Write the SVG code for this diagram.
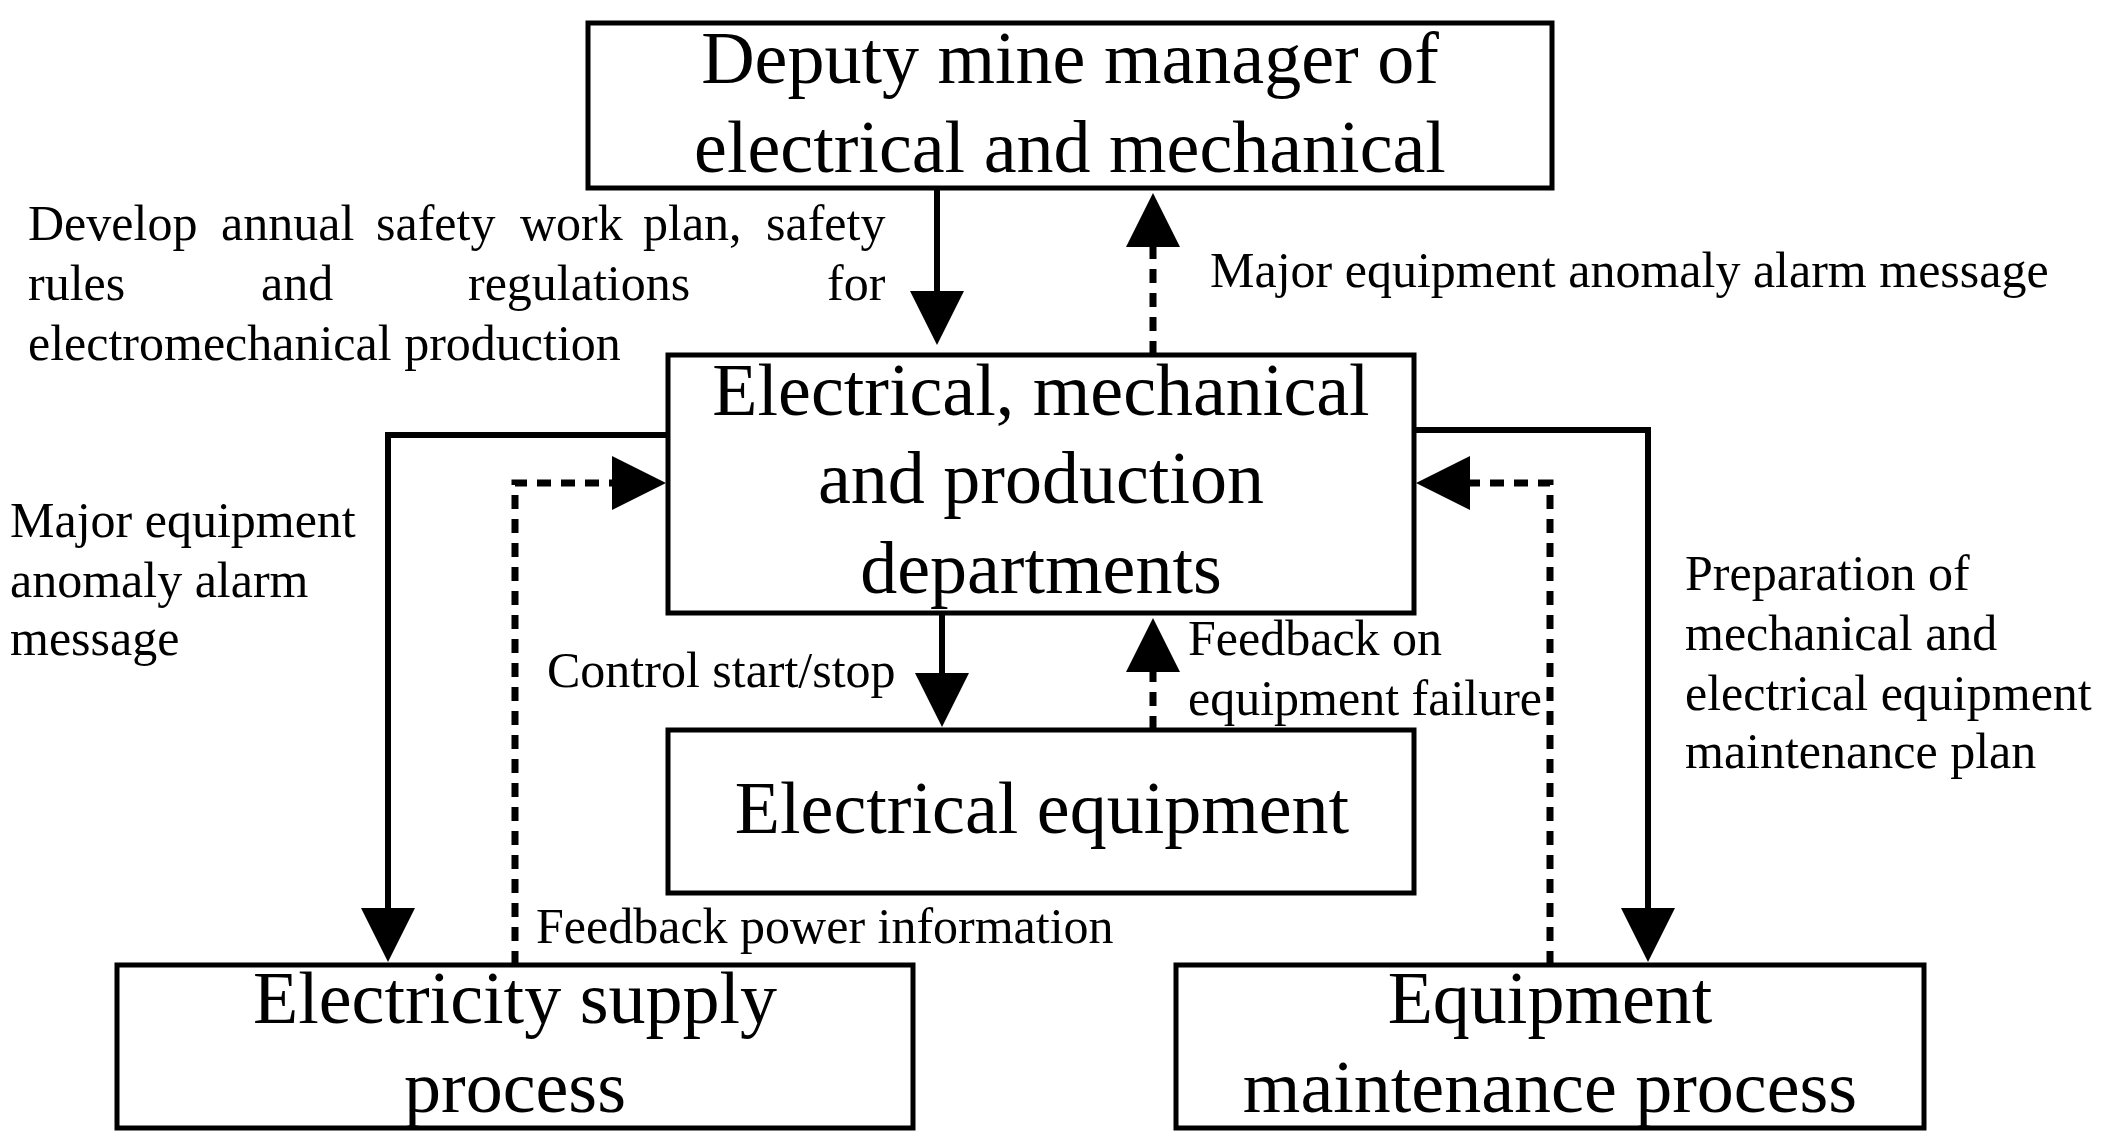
<svg xmlns="http://www.w3.org/2000/svg" width="2108" height="1148" viewBox="0 0 2108 1148">
<style>
.box{fill:#fff;stroke:#000;stroke-width:5}
.big{font-family:"Liberation Serif","Times New Roman",serif;font-size:74px;fill:#000;text-anchor:middle}
.sm{font-family:"Liberation Serif","Times New Roman",serif;font-size:50px;fill:#000}
.solid{fill:none;stroke:#000;stroke-width:6}
.dash{fill:none;stroke:#000;stroke-width:7;stroke-dasharray:14 10}
</style>
<defs>
<marker id="ah" viewBox="0 0 54 54" refX="0" refY="27" markerWidth="54" markerHeight="54" markerUnits="userSpaceOnUse" orient="auto">
<path d="M0,0 L54,27 L0,54 Z" fill="#000"/>
</marker>
</defs>
<rect width="2108" height="1148" fill="#fff"/>
<g id="connectors">
<path class="solid" d="M937,188 V291" marker-end="url(#ah)"/>
<path class="dash" d="M1153,355 V247" marker-end="url(#ah)"/>
<path class="solid" d="M942,613 V673" marker-end="url(#ah)"/>
<path class="dash" d="M1153,730 V672" marker-end="url(#ah)"/>
<path class="solid" d="M668,435 H388 V908" marker-end="url(#ah)"/>
<path class="dash" d="M515,965 V483 H612" marker-end="url(#ah)"/>
<path class="solid" d="M1414,430 H1648 V908" marker-end="url(#ah)"/>
<path class="dash" d="M1550,965 V483 H1470" marker-end="url(#ah)"/>
</g>
<g id="deputy">
<rect class="box" x="588" y="23" width="964" height="165"/>
<text class="big" x="1070" y="83">Deputy mine manager of</text>
<text class="big" x="1070" y="172">electrical and mechanical</text>
</g>
<g id="departments">
<rect class="box" x="668" y="355" width="746" height="258"/>
<text class="big" x="1041" y="415">Electrical, mechanical</text>
<text class="big" x="1041" y="503">and production</text>
<text class="big" x="1041" y="593">departments</text>
</g>
<g id="equipment">
<rect class="box" x="668" y="730" width="746" height="163"/>
<text class="big" x="1042" y="833">Electrical equipment</text>
</g>
<g id="supply">
<rect class="box" x="117" y="965" width="796" height="163"/>
<text class="big" x="515" y="1023">Electricity supply</text>
<text class="big" x="515" y="1112">process</text>
</g>
<g id="maintenance">
<rect class="box" x="1176" y="965" width="748" height="163"/>
<text class="big" x="1550" y="1023">Equipment</text>
<text class="big" x="1550" y="1112">maintenance process</text>
</g>
<g id="labels">
<text class="sm" y="240"><tspan x="28">Develop</tspan><tspan x="221">annual</tspan><tspan x="376">safety</tspan><tspan x="520">work</tspan><tspan x="643">plan,</tspan><tspan x="766">safety</tspan></text>
<text class="sm" y="300"><tspan x="28">rules</tspan><tspan x="261">and</tspan><tspan x="468">regulations</tspan><tspan x="827">for</tspan></text>
<text class="sm" x="28" y="360">electromechanical production</text>
<text class="sm" x="1210" y="287">Major equipment anomaly alarm message</text>
<text class="sm" x="10" y="537">Major equipment</text>
<text class="sm" x="10" y="597">anomaly alarm</text>
<text class="sm" x="10" y="655">message</text>
<text class="sm" x="547" y="687">Control start/stop</text>
<text class="sm" x="1188" y="655">Feedback on</text>
<text class="sm" x="1188" y="715">equipment failure</text>
<text class="sm" x="536" y="943">Feedback power information</text>
<text class="sm" x="1685" y="590">Preparation of</text>
<text class="sm" x="1685" y="650">mechanical and</text>
<text class="sm" x="1685" y="710">electrical equipment</text>
<text class="sm" x="1685" y="768">maintenance plan</text>
</g>
</svg>
